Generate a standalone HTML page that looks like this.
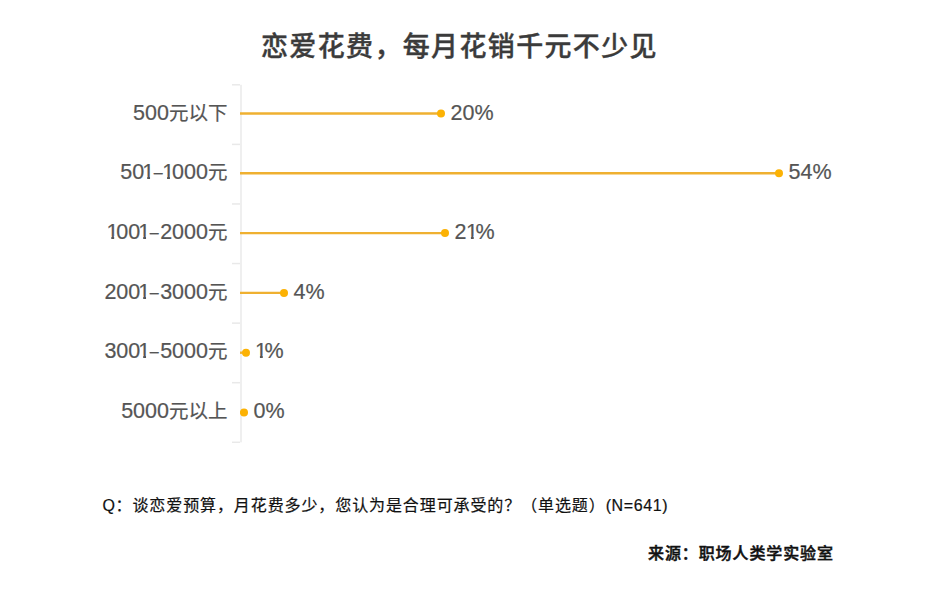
<!DOCTYPE html>
<html lang="zh-CN">
<head>
<meta charset="utf-8">
<style>
html,body{margin:0;padding:0;background:#fff;}
body{width:932px;height:594px;position:relative;overflow:hidden;
  font-family:"Liberation Sans","Noto Sans CJK SC",sans-serif;}
.t{position:absolute;white-space:nowrap;line-height:1;}
#title{left:261px;top:30.5px;font-size:27px;font-weight:500;-webkit-text-stroke:0.35px #3b3b3b;color:#3b3b3b;letter-spacing:1.35px;
  font-family:"Noto Sans CJK SC",sans-serif;}
.lab{position:absolute;right:704.5px;font-size:21.5px;color:#555;-webkit-text-stroke:0.2px #555;line-height:28px;height:28px;white-space:nowrap;}
.lab .c{font-family:"Noto Sans CJK SC",sans-serif;font-size:19.5px;letter-spacing:0;}
.lab .d{font-size:16px;margin:0 1.5px;position:relative;top:-1px;}
.o,.o2{display:inline-block;line-height:1;clip-path:polygon(0 0,100% 0,100% 0.655em,0.362em 0.655em,0.362em 100%,0.229em 100%,0.229em 0.655em,0 0.655em);}
.o{margin:0 -2px;}
.o2{margin:0 -2.5px 0 -0.5px;}
.val{position:absolute;font-size:21.5px;color:#555;-webkit-text-stroke:0.2px #555;line-height:28px;white-space:nowrap;}
#q{left:102.5px;top:498px;font-size:16px;color:#111;-webkit-text-stroke:0.2px #111;letter-spacing:0.9px;font-family:"Liberation Sans","Noto Sans CJK SC",sans-serif;}
#q .l{letter-spacing:0.6px;}
#src{left:648px;top:544px;font-size:16px;font-weight:500;color:#111;-webkit-text-stroke:0.45px #111;letter-spacing:0.9px;
  font-family:"Noto Sans CJK SC",sans-serif;}
svg{position:absolute;left:0;top:0;}
</style>
</head>
<body>
<svg width="932" height="594" viewBox="0 0 932 594">
<rect x="240" y="84.8" width="2" height="357.5" fill="#efefef"/>
<g fill="#e9e9e9">
<rect x="232" y="84.05" width="8" height="1.5"/>
<rect x="232" y="143.63" width="8" height="1.5"/>
<rect x="232" y="203.21" width="8" height="1.5"/>
<rect x="232" y="262.79" width="8" height="1.5"/>
<rect x="232" y="322.37" width="8" height="1.5"/>
<rect x="232" y="381.95" width="8" height="1.5"/>
<rect x="232" y="441.53" width="8" height="1.5"/>
</g>
<g stroke="#efb030" stroke-width="2.4"><line x1="240" y1="113.5" x2="441.0" y2="113.5"/><line x1="240" y1="173.3" x2="779.0" y2="173.3"/><line x1="240" y1="233.1" x2="445.0" y2="233.1"/><line x1="240" y1="292.9" x2="284.0" y2="292.9"/><line x1="240" y1="352.7" x2="246.0" y2="352.7"/><line x1="240" y1="412.5" x2="244.0" y2="412.5"/></g>
<g fill="#fcb204"><circle cx="441.0" cy="113.5" r="4"/><circle cx="779.0" cy="173.3" r="4"/><circle cx="445.0" cy="233.1" r="4"/><circle cx="284.0" cy="292.9" r="4"/><circle cx="246.0" cy="352.7" r="4"/><circle cx="244.0" cy="412.5" r="4"/></g>
</svg>
<div class="t" id="title">恋爱花费，每月花销千元不少见</div>
<div class="lab" style="top:97.6px">500<span class="c">元以下</span></div>
<div class="lab" style="top:157.2px">50<span class="o">1</span><span class="d">–</span><span class="o">1</span>000<span class="c">元</span></div>
<div class="lab" style="top:216.9px"><span class="o">1</span>00<span class="o">1</span><span class="d">–</span>2000<span class="c">元</span></div>
<div class="lab" style="top:276.5px">200<span class="o">1</span><span class="d">–</span>3000<span class="c">元</span></div>
<div class="lab" style="top:336.2px">300<span class="o">1</span><span class="d">–</span>5000<span class="c">元</span></div>
<div class="lab" style="top:395.8px">5000<span class="c">元以上</span></div>
<div class="val" style="left:450.5px;top:98.6px">20%</div>
<div class="val" style="left:788.5px;top:158.2px">54%</div>
<div class="val" style="left:454.5px;top:217.9px">2<span class="o2">1</span>%</div>
<div class="val" style="left:293.5px;top:277.5px">4%</div>
<div class="val" style="left:255.5px;top:337.2px"><span class="o2">1</span>%</div>
<div class="val" style="left:253.5px;top:396.8px">0%</div>
<div class="t" id="q"><span class="l">Q</span>：谈恋爱预算，月花费多少，您认为是合理可承受的？（单选题）<span class="l">(N=641)</span></div>
<div class="t" id="src">来源：职场人类学实验室</div>
</body>
</html>
